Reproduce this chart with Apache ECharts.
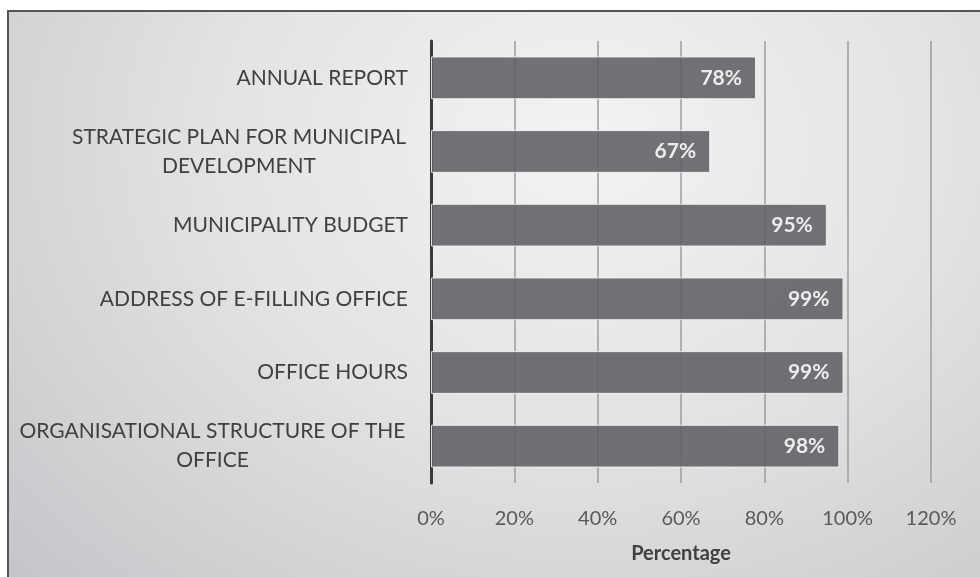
<!DOCTYPE html>
<html>
<head>
<meta charset="utf-8">
<script src="https://cdn.jsdelivr.net/npm/echarts@6/dist/echarts.min.js"></script>
<style>
  html, body { margin: 0; padding: 0; background: #fff; overflow: hidden; }
  .frame {
    position: absolute;
    left: 7px;
    top: 10px;
    width: 990px;
    height: 590px;
    border: 2px solid #555;
    background: radial-gradient(ellipse at 58% 22%, #f3f3f3 0%, #e3e3e4 45%, #c3c4c7 100%);
  }
  #chart { position: absolute; left: -9px; top: -12px; width: 980px; height: 577px; }
</style>
</head>
<body>
<div class="frame"><div id="chart"></div></div>
<script>
  // categories listed bottom-to-top, as the category axis draws them
  const categories = [
    'ORGANISATIONAL STRUCTURE OF THE\nOFFICE',
    'OFFICE HOURS',
    'ADDRESS OF E-FILLING OFFICE',
    'MUNICIPALITY BUDGET',
    'STRATEGIC PLAN FOR MUNICIPAL\nDEVELOPMENT',
    'ANNUAL REPORT'
  ]
  const percentValues = [98, 99, 99, 95, 67, 78]
  const axisMax = 120
  const axisStep = 20

  // two-line labels: centre each line inside a box as wide as the longest line
  function catLabel(v) {
    if (v.indexOf('\n') < 0) return v
    const lines = v.split('\n')
    const key = lines[0].length > 29 ? 'wide' : 'mid'
    return lines.map(s => '{' + key + '|' + s + '}').join('\n')
  }

  const myCharts = echarts.init(document.getElementById('chart'))
  let option = {
    backgroundColor: 'transparent',
    textStyle: { fontFamily: 'Lato, Open Sans, sans-serif' },
    grid: {
      left: 431,
      right: 49,
      top: 41,
      bottom: 94
    },
    xAxis: {
      type: 'value',
      min: 0,
      max: axisMax,
      interval: axisStep,
      name: 'Percentage',
      nameLocation: 'middle',
      nameGap: 61,
      nameTextStyle: { color: '#404040', fontSize: 20, fontWeight: 'bold' },
      axisLine: { show: false },
      axisTick: { show: false },
      axisLabel: {
        color: '#595959',
        fontSize: 20,
        margin: 26,
        formatter: '{value}%'
      },
      splitLine: { lineStyle: { color: '#9d9d9f', width: 1.5 } }
    },
    yAxis: {
      type: 'category',
      data: categories,
      axisLine: { lineStyle: { color: '#3a3a3a', width: 3 } },
      axisTick: { show: false },
      axisLabel: {
        color: '#404040',
        fontSize: 21,
        margin: 23,
        lineHeight: 29,
        align: 'right',
        formatter: catLabel,
        rich: {
          wide: { width: 391, align: 'center', fontSize: 21, lineHeight: 29, color: '#404040' },
          mid: { width: 338, align: 'center', fontSize: 21, lineHeight: 29, color: '#404040' }
        }
      }
    },
    series: [
      {
        type: 'bar',
        data: percentValues,
        barWidth: '58%',
        itemStyle: {
          color: '#5e5f64',
          opacity: 0.88,
          borderColor: '#f4f4f4',
          borderWidth: 1
        },
        label: {
          show: true,
          position: 'insideRight',
          distance: 14,
          color: '#ffffff',
          fontSize: 21,
          fontWeight: 'bold',
          formatter: '{c}%'
        },
        silent: true
      }
    ]
  }
  myCharts.setOption(option)
</script>
</body>
</html>
